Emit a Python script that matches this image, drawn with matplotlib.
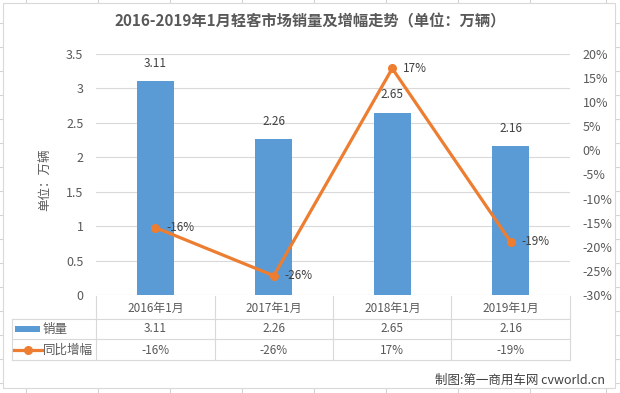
import matplotlib
matplotlib.use('Agg')
import matplotlib.pyplot as plt
from matplotlib.patches import Rectangle
from matplotlib.lines import Line2D
from matplotlib.transforms import blended_transform_factory
from matplotlib.ticker import MultipleLocator, FuncFormatter

plt.rcParams['font.family'] = ['Noto Sans CJK SC', 'DejaVu Sans']
plt.rcParams['axes.unicode_minus'] = False

# data
months = ['2016年1月', '2017年1月', '2018年1月', '2019年1月']
sales = [3.11, 2.26, 2.65, 2.16]          # 销量 (万辆)
growth = [-16, -26, 17, -19]              # 同比增幅 (%)
sales_labels = ['3.11', '2.26', '2.65', '2.16']
growth_labels = ['-16%', '-26%', '17%', '-19%']

#define aesthetics
bar_color = '#5B9BD5'
line_color = '#ED7D31'
text_color = '#595959'
grid_color = '#d9d9d9'

W, H = 620, 393
def fx(px):
    return px / W
def fy(py):
    return 1 - py / H

fig = plt.figure(figsize=(6.2, 3.93), dpi=100)

# spreadsheet cells behind the chart
for x in [26, 98, 170, 242, 314, 386, 458, 530, 606]:
    fig.add_artist(Line2D([fx(x)] * 2, [0, 1], color='#d4d4d4', lw=0.8, zorder=-3))
for y in range(23, H, 24):
    fig.add_artist(Line2D([0, 1], [fy(y)] * 2, color='#d4d4d4', lw=0.8, zorder=-3))
fig.add_artist(Rectangle((fx(3), fy(388)), fx(615) - fx(3), fy(3) - fy(388),
                         facecolor='white', edgecolor=grid_color, lw=0.8, zorder=-2))

#bar plot
ax1 = fig.add_axes([fx(96), fy(295), fx(570) - fx(96), fy(54) - fy(295)])
ax1.patch.set_visible(False)
xs = range(len(months))
bars = ax1.bar(xs, sales, width=0.31, color=bar_color, zorder=2)
ax1.set_xlim(-0.5, 3.5)
ax1.set_ylim(0, 3.5)
ax1.yaxis.set_major_locator(MultipleLocator(0.5))
ax1.yaxis.set_major_formatter(FuncFormatter(lambda v, p: f'{v:g}'))
ax1.grid(axis='y', color=grid_color, lw=0.8)
ax1.set_axisbelow(True)
ax1.set_xticks([])
for s in ax1.spines.values():
    s.set_visible(False)
ax1.tick_params(axis='y', length=0, pad=9, labelsize=9, colors=text_color)
ax1.bar_label(bars, labels=sales_labels, padding=8, fontsize=8.5, color='#404040')

#growth line
ax2 = ax1.twinx()
ax2.plot(xs, growth, color=line_color, lw=2.3, marker='o', ms=5.5, zorder=3)
ax2.set_ylim(-30, 20)
ax2.yaxis.set_major_locator(MultipleLocator(5))
ax2.yaxis.set_major_formatter(FuncFormatter(lambda v, p: f'{v:.0f}%'))
for s in ax2.spines.values():
    s.set_visible(False)
ax2.tick_params(axis='y', length=0, pad=9, labelsize=9, colors=text_color)
for i, (g, lab) in enumerate(zip(growth, growth_labels)):
    ax2.annotate(lab, (i, g), xytext=(8, 0), textcoords='offset points',
                 ha='left', va='center', fontsize=8.5, color='#404040')

# data table under the chart
trans = blended_transform_factory(ax1.transData, fig.transFigure)
for yy in [319, 339, 360]:
    fig.add_artist(Line2D([fx(12), fx(570)], [fy(yy)] * 2, color=grid_color, lw=0.8))
for b in [-0.5, 0.5, 1.5, 2.5, 3.5]:
    fig.add_artist(Line2D([b, b], [fy(296), fy(360)], color=grid_color, lw=0.8, transform=trans))
fig.add_artist(Line2D([fx(12)] * 2, [fy(319), fy(360)], color=grid_color, lw=0.8))

for i in xs:
    ax1.text(i, fy(308), months[i], transform=trans, ha='center', va='center',
             fontsize=8.5, color=text_color)
    ax1.text(i, fy(329), sales_labels[i], transform=trans, ha='center', va='center',
             fontsize=8.5, color=text_color)
    ax1.text(i, fy(350), growth_labels[i], transform=trans, ha='center', va='center',
             fontsize=8.5, color=text_color)

fig.add_artist(Rectangle((fx(15), fy(332)), fx(40) - fx(15), fy(326) - fy(332),
                         facecolor=bar_color, edgecolor='none'))
fig.add_artist(Line2D([fx(14), fx(42)], [fy(350)] * 2, color=line_color, lw=2.3))
fig.add_artist(Line2D([fx(28)], [fy(350)], color=line_color, marker='o', ms=5.5))
fig.text(fx(43), fy(329), '销量', ha='left', va='center', fontsize=9, color=text_color)
fig.text(fx(43), fy(350), '同比增幅', ha='left', va='center', fontsize=9, color=text_color)

# titles
fig.text(0.5, fy(21), '2016-2019年1月轻客市场销量及增幅走势（单位：万辆）',
         ha='center', va='center', fontsize=11, fontweight='bold', color=text_color)
fig.text(fx(45), fy(180), '单位：万辆', rotation=90, ha='center', va='center',
         fontsize=9, color=text_color)
fig.text(fx(605), fy(380), '制图:第一商用车网 cvworld.cn', ha='right', va='center',
         fontsize=9, color='#404040')

fig.savefig('out.png', dpi=100)
